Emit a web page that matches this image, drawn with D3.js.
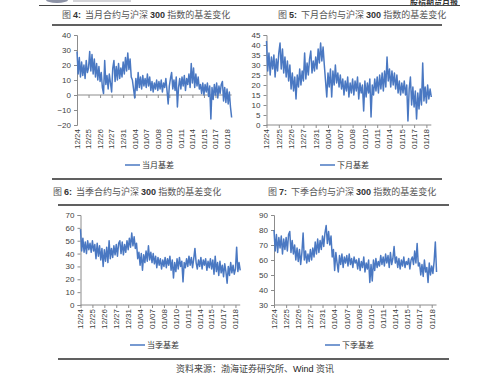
<!DOCTYPE html>
<html><head><meta charset="utf-8">
<script src="https://cdn.jsdelivr.net/npm/d3@7"></script>
<style>
html,body{margin:0;padding:0;background:#fff;}
svg{display:block;}
</style></head>
<body>
<svg id="c" width="500" height="382"></svg>
<script>
const xLabels = ['12/24','12/25','12/26','12/27','12/31','01/04','01/07','01/08','01/10','01/11','01/14','01/15','01/17','01/18'];
const xTickIdx = [0,10,20,30,40,50,60,70,80,90,100,110,120,130];

const currentMonth = [
29,14,25,12,22,13,20,11,23,15,
18,29,16,27,14,24,12,21,10,19,
9,15,5,1,23,7,13,4,14,8,
2,18,23,9,19,10,21,11,18,12,
22,14,25,16,28,17,24,12,10,4,
-2,11,3,15,5,12,4,13,6,11,
5,14,6,12,3,9,2,8,4,10,
3,9,4,10,2,8,5,11,3,-6,
6,11,15,4,10,3,12,-8,5,11,
4,12,6,13,3,11,7,14,5,21,
8,18,5,14,6,12,4,7,1,8,
0,7,2,8,-1,6,-16,5,-3,7,
0,8,-2,6,1,7,9,-4,5,-5,
4,-6,2,-8,-15];

const nextMonth = [
42,27,36,25,34,28,35,24,33,27,
36,41,28,38,26,34,24,32,22,30,
18,26,17,24,13,25,19,28,20,27,
22,36,23,31,25,33,37,26,32,27,
34,28,38,31,41,32,39,30,22,14,
26,19,28,14,27,20,30,21,26,19,
25,18,23,15,22,17,24,14,21,16,
23,15,22,17,24,13,21,16,20,7,
22,14,21,16,23,4,20,15,23,17,
24,16,25,18,26,17,27,19,34,22,
28,19,27,20,26,18,25,16,22,15,
21,16,22,15,20,2,18,24,10,19,
9,17,3,16,8,18,10,31,12,19,
11,20,13,18,14];

const currentQuarter = [
59,42,52,41,49,40,50,43,48,41,
50,42,47,36,48,38,46,35,44,30,
43,34,45,33,50,36,44,37,46,39,
47,38,48,50,40,49,39,47,41,50,
43,52,45,56,46,53,44,48,36,41,
31,40,27,39,33,42,34,46,35,41,
33,40,32,38,29,37,31,36,28,35,
30,37,29,36,31,38,27,35,21,33,
26,36,28,37,30,34,18,33,29,36,
30,38,31,37,29,36,44,33,28,35,
30,37,28,35,31,36,27,34,29,36,
28,35,24,38,26,33,23,34,25,31,
22,32,26,17,30,23,33,25,31,24,
28,45,26,33,27];

const nextQuarter = [
80,66,77,65,75,68,76,64,74,67,
75,66,77,79,65,73,64,70,60,68,
59,67,57,65,78,60,66,58,64,59,
67,60,68,62,72,64,74,65,73,67,
76,69,78,83,71,79,70,76,62,67,
53,65,58,52,63,57,64,55,62,58,
63,56,64,57,61,55,62,58,60,54,
61,53,59,55,62,52,58,54,60,45,
57,46,60,53,61,55,59,56,63,57,
62,56,64,58,63,55,65,57,61,69,
58,62,55,61,54,60,56,62,55,59,
57,61,54,60,62,57,66,58,71,56,
58,50,57,49,60,52,55,45,58,50,
56,51,59,72,52];

const yTicksA = [-20,-10,0,10,20,30,40];
const yTicksB = [0,5,10,15,20,25,30,35,40,45];
const yTicksC = [0,10,20,30,40,50,60,70];
const yTicksD = [30,40,50,60,70,80,90];

const titles = [
  ['图 ','4:','  当月合约与沪深 ','300',' 指数的基差变化'],
  ['图 ','5:','  下月合约与沪深 ','300',' 指数的基差变化'],
  ['图 ','6:','  当季合约与沪深 ','300',' 指数的基差变化'],
  ['图 ','7:','  下季合约与沪深 ','300',' 指数的基差变化']
];
const legendNames = ['当月基差','下月基差','当季基差','下季基差'];

const panels = [
  {data: currentMonth, ticks: yTicksA, x0: 77, step: 1.154, yTop: 35, yBot: 125, axisAtZero: true, tx: 62, ty: 18, lx: 125, ly: 165},
  {data: nextMonth, ticks: yTicksB, x0: 266.5, step: 1.23, yTop: 35, yBot: 125, axisAtZero: false, tx: 278, ty: 18, lx: 320, ly: 165},
  {data: currentQuarter, ticks: yTicksC, x0: 80.5, step: 1.192, yTop: 215, yBot: 305, axisAtZero: false, tx: 53, ty: 195, lx: 130, ly: 345},
  {data: nextQuarter, ticks: yTicksD, x0: 274, step: 1.213, yTop: 215, yBot: 305, axisAtZero: false, tx: 268, ty: 195, lx: 325, ly: 345}
];

const svg = d3.select('#c');
const CJK = '"Noto Sans CJK SC", "Noto Sans", sans-serif';
const LAT = '"Liberation Sans", Arial, sans-serif';
const lineColor = '#4a78c2';
const axisColor = '#8c8c8c';
const tickText = '#404040';

// header
svg.append('ellipse').attr('cx', 57).attr('cy', 0).attr('rx', 11).attr('ry', 3).attr('fill', '#8d93a6');
svg.append('rect').attr('x', 73).attr('y', 0).attr('width', 58).attr('height', 2).attr('fill', '#d4d4d8');
svg.append('text').attr('x', 458).attr('y', 4.5).attr('text-anchor', 'end')
  .attr('font-family', CJK).attr('font-size', 8).attr('font-weight', 'bold').attr('fill', '#333').text('股指期货月报');
svg.append('line').attr('x1', 39).attr('x2', 460).attr('y1', 5.5).attr('y2', 5.5).attr('stroke', '#444').attr('stroke-width', 1);

// rules
[[52,442,25],[52,442,179],[58,449,205],[58,449,359]].forEach(r => {
  svg.append('line').attr('x1', r[0]).attr('x2', r[1]).attr('y1', r[2]).attr('y2', r[2])
    .attr('stroke', '#2b2b2b').attr('stroke-width', 1.5);
});

// source
svg.append('text').attr('x', 176).attr('y', 371.5).attr('font-family', CJK).attr('font-size', 9).attr('fill', '#444')
  .text('资料来源：渤海证券研究所、')
  .append('tspan').attr('font-family', LAT).attr('font-size', 9).attr('fill', '#222').text('Wind ')
  .append('tspan').attr('font-family', CJK).attr('fill', '#444').text('资讯');

panels.forEach((p, k) => {
  const g = svg.append('g');
  const n = p.data.length;
  const x = d3.scaleLinear().domain([0, n - 1]).range([p.x0, p.x0 + (n - 1) * p.step]);
  const y = d3.scaleLinear().domain(d3.extent(p.ticks)).range([p.yBot, p.yTop]);

  // title
  const t = g.append('text').attr('x', p.tx).attr('y', p.ty).attr('font-size', 9);
  titles[k].forEach((s, j) => {
    const lat = (j === 1 || j === 3);
    t.append('tspan').attr('font-family', lat ? LAT : CJK)
      .attr('font-weight', lat ? 'bold' : 'normal')
      .attr('fill', lat ? '#333' : '#555')
      .attr('xml:space', 'preserve').style('white-space', 'pre').text(s);
  });

  // y axis
  const ya = g.append('g').attr('transform', `translate(${p.x0},0)`)
    .call(d3.axisLeft(y).tickValues(p.ticks).tickSize(3).tickPadding(3).tickFormat(d3.format('d')));
  ya.select('.domain').attr('stroke', axisColor);
  ya.selectAll('.tick line').attr('stroke', axisColor);
  ya.selectAll('.tick text').attr('font-family', LAT).attr('font-size', 8).attr('fill', tickText);

  // x axis
  const axisY = p.axisAtZero ? y(0) : p.yBot;
  const xa = g.append('g').attr('transform', `translate(0,${axisY})`)
    .call(d3.axisBottom(x).tickValues(xTickIdx).tickSize(3).tickSizeOuter(0).tickFormat(''));
  xa.select('.domain').attr('stroke', axisColor).attr('d', `M${x(0)},0H${x(n - 1)}`);
  xa.selectAll('.tick line').attr('stroke', axisColor);

  g.selectAll('.xl').data(xTickIdx).enter().append('text')
    .attr('transform', d => `translate(${x(d)},${p.yBot + 4}) rotate(-90)`)
    .attr('text-anchor', 'end').attr('dy', '0.35em')
    .attr('font-family', LAT).attr('font-size', 8).attr('fill', tickText)
    .text((d, i) => xLabels[i]);

  // line
  g.append('path').datum(p.data)
    .attr('fill', 'none').attr('stroke', lineColor).attr('stroke-width', 1.5).attr('stroke-linejoin', 'round')
    .attr('d', d3.line().x((d, i) => x(i)).y(d => y(d)));

  // legend
  g.append('line').attr('x1', p.lx).attr('x2', p.lx + 15).attr('y1', p.ly).attr('y2', p.ly)
    .attr('stroke', lineColor).attr('stroke-width', 1.5);
  g.append('text').attr('x', p.lx + 17).attr('y', p.ly + 3).attr('font-family', CJK).attr('font-size', 8)
    .attr('fill', '#333').text(legendNames[k]);
});
</script>
</body></html>
